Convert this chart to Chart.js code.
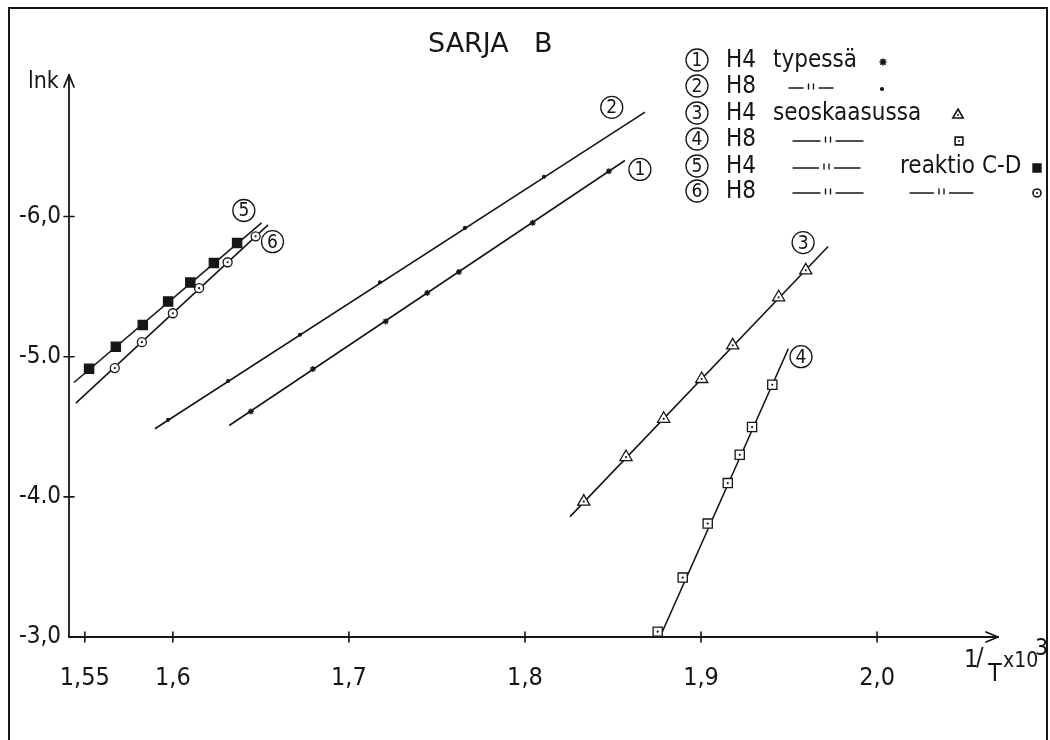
<!DOCTYPE html>
<html>
<head>
<meta charset="utf-8">
<script src="https://cdn.jsdelivr.net/npm/chart.js@4/dist/chart.umd.min.js"></script>
<style>
  html, body { margin: 0; padding: 0; background: #fff; }
  canvas { display: block; }
</style>
</head>
<body>
<canvas id="chart" width="1050" height="740"></canvas>
<script>
const FONT = '"DejaVu Sans Condensed", "DejaVu Sans", sans-serif';
const WIDE = '"DejaVu Sans", sans-serif';
const INK = '#161616';

// axis ticks
const xTicks = [1.55, 1.6, 1.7, 1.8, 1.9, 2.0];
const xTickLabels = ['1,55', '1,6', '1,7', '1,8', '1,9', '2,0'];
const yTicks = [-3, -4, -5, -6];
const yTickLabels = ['-3,0', '-4.0', '-5.0', '-6,0'];

// 1  H4 typessä
const x1 = [1.6443, 1.6795, 1.7209, 1.7445, 1.7625, 1.8044, 1.8477];
const y1 = [-4.609, -4.912, -5.252, -5.455, -5.605, -5.955, -6.324];
const fit1 = [[1.6320, -4.509], [1.8568, -6.400]];

// 2  H8 typessä
const x2 = [1.5973, 1.6314, 1.6722, 1.7176, 1.7659, 1.8108];
const y2 = [-4.550, -4.827, -5.157, -5.531, -5.919, -6.284];
const fit2 = [[1.5898, -4.486], [1.8682, -6.745]];

// 3  H4 seoskaasussa
const x3 = [1.8334, 1.8574, 1.8788, 1.9004, 1.9180, 1.9441, 1.9595];
const y3 = [-3.966, -4.284, -4.557, -4.841, -5.081, -5.424, -5.616];
const fit3 = [[1.8256, -3.859], [1.9722, -5.786]];

// 4  H8 seoskaasussa
const x4 = [1.8754, 1.8896, 1.9038, 1.9152, 1.9220, 1.9290, 1.9405];
const y4 = [-3.038, -3.424, -3.809, -4.098, -4.300, -4.498, -4.800];
const fit4 = [[1.8767, -3.000], [1.9496, -5.057]];

// 5  H4 seoskaasussa, reaktio C-D
const x5 = [1.5524, 1.5676, 1.5829, 1.5973, 1.6099, 1.6233, 1.6365];
const y5 = [-4.914, -5.071, -5.227, -5.394, -5.529, -5.669, -5.812];
const fit5 = [[1.5438, -4.816], [1.6504, -5.955]];

// 6  H8 seoskaasussa, reaktio C-D
const x6 = [1.5670, 1.5824, 1.6000, 1.6149, 1.6311, 1.6470];
const y6 = [-4.919, -5.104, -5.310, -5.489, -5.674, -5.859];
const fit6 = [[1.5449, -4.669], [1.6541, -5.941]];

// circled series numbers next to the lines (data coordinates)
const lineTags = [
    { n: '1', x: 1.8653, y: -6.336 },
    { n: '2', x: 1.8493, y: -6.779 },
    { n: '3', x: 1.9580, y: -5.814 },
    { n: '4', x: 1.9568, y: -5.000 },
    { n: '5', x: 1.6403, y: -6.043 },
    { n: '6', x: 1.6566, y: -5.821 }
];

function pts(xs, ys) {
    return xs.map((x, i) => ({ x: x, y: ys[i] }));
}

function fitLine(fit) {
    return {
        data: fit.map(p => ({ x: p[0], y: p[1] })),
        showLine: true,
        pointRadius: 0,
        borderColor: INK,
        borderWidth: 1.6,
        order: 3,
        clip: false
    };
}

function marks(xs, ys, style, radius, fill) {
    return {
        data: pts(xs, ys),
        showLine: false,
        pointStyle: style,
        pointRadius: radius,
        pointBorderColor: INK,
        pointBackgroundColor: fill,
        pointBorderWidth: 1.3,
        order: 2,
        clip: false
    };
}

function centreDots(xs, ys) {
    return {
        data: pts(xs, ys),
        showLine: false,
        pointStyle: 'circle',
        pointRadius: 1.1,
        pointBorderWidth: 0,
        pointBackgroundColor: INK,
        order: 1,
        clip: false
    };
}

function stroke(ctx, x1, y1, x2, y2) {
    ctx.beginPath();
    ctx.moveTo(x1, y1);
    ctx.lineTo(x2, y2);
    ctx.stroke();
}

function circled(ctx, n, x, y) {
    ctx.save();
    ctx.lineWidth = 1.3;
    ctx.beginPath();
    ctx.arc(x, y, 11, 0, Math.PI * 2);
    ctx.stroke();
    ctx.font = '19px ' + FONT;
    ctx.textAlign = 'center';
    ctx.textBaseline = 'middle';
    ctx.fillText(n, x, y + 1);
    ctx.restore();
}

// the "—''—" ditto sign
function ditto(ctx, x1, x2, y) {
    const w = x2 - x1;
    const mid = x1 + w / 2;
    ctx.save();
    ctx.lineWidth = 1.4;
    stroke(ctx, x1, y, mid - 8, y);
    stroke(ctx, mid + 8, y, x2, y);
    stroke(ctx, mid - 2.5, y - 4, mid - 2.5, y + 1);
    stroke(ctx, mid + 2.5, y - 4, mid + 2.5, y + 1);
    ctx.restore();
}

function legendMark(ctx, style, radius, fill, x, y, dot) {
    ctx.save();
    ctx.fillStyle = fill;
    ctx.strokeStyle = INK;
    Chart.helpers.drawPoint(ctx, { pointStyle: style, radius: radius, rotation: 0, borderWidth: 1.2 }, x, y);
    if (dot) {
        ctx.fillStyle = INK;
        ctx.beginPath();
        ctx.arc(x, y, 1, 0, Math.PI * 2);
        ctx.fill();
    }
    ctx.restore();
}

const paperPlugin = {
    id: 'paper',
    beforeDraw(chart) {
        const ctx = chart.ctx;
        ctx.save();
        ctx.fillStyle = '#fff';
        ctx.fillRect(0, 0, chart.width, chart.height);
        ctx.restore();
    },
    afterDraw(chart) {
        const ctx = chart.ctx;
        const xs = chart.scales.x;
        const ys = chart.scales.y;
        const ax = xs.left;
        const ay = ys.bottom;

        ctx.save();
        ctx.strokeStyle = INK;
        ctx.fillStyle = INK;
        ctx.lineCap = 'round';

        // sheet frame
        ctx.lineWidth = 2;
        ctx.beginPath();
        ctx.moveTo(9, 760);
        ctx.lineTo(9, 8);
        ctx.lineTo(1047, 8);
        ctx.lineTo(1047, 760);
        ctx.stroke();

        // axes with arrow heads
        ctx.lineWidth = 1.8;
        stroke(ctx, ax, ay, ax, ys.top);
        stroke(ctx, ax, ys.top, ax - 5, ys.top + 12);
        stroke(ctx, ax, ys.top, ax + 5, ys.top + 12);
        stroke(ctx, ax, ay, xs.right, ay);
        stroke(ctx, xs.right, ay, xs.right - 12, ay - 5);
        stroke(ctx, xs.right, ay, xs.right - 12, ay + 5);

        // tick crosses
        ctx.lineWidth = 1.6;
        xTicks.forEach(v => {
            const px = xs.getPixelForValue(v);
            stroke(ctx, px, ay - 5, px, ay + 5);
        });
        yTicks.forEach(v => {
            if (v === -3) return;
            const py = ys.getPixelForValue(v);
            stroke(ctx, ax - 5, py, ax + 5, py);
        });

        // title and axis names
        ctx.textBaseline = 'alphabetic';
        ctx.textAlign = 'left';
        ctx.font = '27px ' + WIDE;
        ctx.fillText('SARJA', 428, 52);
        ctx.fillText('B', 534, 52);

        ctx.font = '23px ' + FONT;
        ctx.fillText('lnk', 28, 88);

        ctx.font = '25px ' + FONT;
        ctx.fillText('1', 964, 667);
        ctx.fillText('/', 976, 665);
        ctx.fillText('T', 988, 681);
        ctx.font = '21px ' + FONT;
        ctx.fillText('x10', 1003, 667);
        ctx.font = '23px ' + FONT;
        ctx.fillText('3', 1035, 655);

        // circled numbers at the lines
        lineTags.forEach(t => {
            circled(ctx, t.n, xs.getPixelForValue(t.x), ys.getPixelForValue(t.y));
        });

        // legend block
        const rows = [60, 86, 113, 139, 166, 191];
        ctx.font = '24px ' + FONT;
        ctx.textBaseline = 'middle';
        rows.forEach((ry, i) => {
            circled(ctx, String(i + 1), 697, ry);
            ctx.fillText(i % 2 === 0 ? 'H4' : 'H8', 726, ry + 1);
        });
        ctx.fillText('typessä', 773, rows[0] + 1);
        ditto(ctx, 789, 833, rows[1] + 2);
        ctx.fillText('seoskaasussa', 773, rows[2] + 1);
        ditto(ctx, 793, 863, rows[3] + 2);
        ditto(ctx, 793, 860, rows[4] + 2);
        ctx.fillText('reaktio C-D', 900, rows[4] + 1);
        ditto(ctx, 793, 863, rows[5] + 2);
        ditto(ctx, 910, 973, rows[5] + 2);

        legendMark(ctx, 'star', 3, INK, 883, rows[0] + 2, false);
        legendMark(ctx, 'circle', 1.3, INK, 882, rows[1] + 3, false);
        legendMark(ctx, 'triangle', 6, '#fff', 958, rows[2] + 2, true);
        legendMark(ctx, 'rect', 5.5, '#fff', 959, rows[3] + 2, true);
        legendMark(ctx, 'rect', 5.5, INK, 1037, rows[4] + 2, false);
        legendMark(ctx, 'circle', 4, '#fff', 1037, rows[5] + 2, true);

        ctx.restore();
    }
};

const ctx = document.getElementById('chart').getContext('2d');
new Chart(ctx, {
    type: 'scatter',
    data: {
        datasets: [
            fitLine(fit1), fitLine(fit2), fitLine(fit3),
            fitLine(fit4), fitLine(fit5), fitLine(fit6),
            marks(x1, y1, 'star', 3, INK),
            marks(x2, y2, 'circle', 1.4, INK),
            marks(x3, y3, 'triangle', 7, '#fff'),
            marks(x4, y4, 'rect', 6.5, '#fff'),
            marks(x5, y5, 'rect', 6.5, INK),
            marks(x6, y6, 'circle', 4.5, '#fff'),
            centreDots(x3, y3),
            centreDots(x4, y4),
            centreDots(x6, y6)
        ]
    },
    options: {
        responsive: false,
        animation: false,
        events: [],
        layout: { padding: { left: 9, right: 52, top: 75, bottom: 43 } },
        plugins: {
            legend: { display: false },
            tooltip: { enabled: false }
        },
        scales: {
            x: {
                type: 'linear',
                min: 1.541,
                max: 2.0687,
                grid: { display: false },
                border: { display: false },
                afterBuildTicks: scale => { scale.ticks = xTicks.map(v => ({ value: v })); },
                afterFit: scale => { scale.height = 60; },
                ticks: {
                    padding: 18,
                    autoSkip: false,
                    maxRotation: 0,
                    color: INK,
                    font: { family: FONT, size: 25 },
                    callback: value => xTickLabels[xTicks.indexOf(value)]
                }
            },
            y: {
                type: 'linear',
                reverse: true,
                min: -7.01,
                max: -3.0,
                grid: { display: false },
                border: { display: false },
                afterBuildTicks: scale => { scale.ticks = yTicks.map(v => ({ value: v })); },
                afterFit: scale => { scale.width = 60; },
                ticks: {
                    padding: 0,
                    autoSkip: false,
                    color: INK,
                    font: { family: FONT, size: 24 },
                    callback: value => yTickLabels[yTicks.indexOf(value)]
                }
            }
        }
    },
    plugins: [paperPlugin]
});
</script>
</body>
</html>
